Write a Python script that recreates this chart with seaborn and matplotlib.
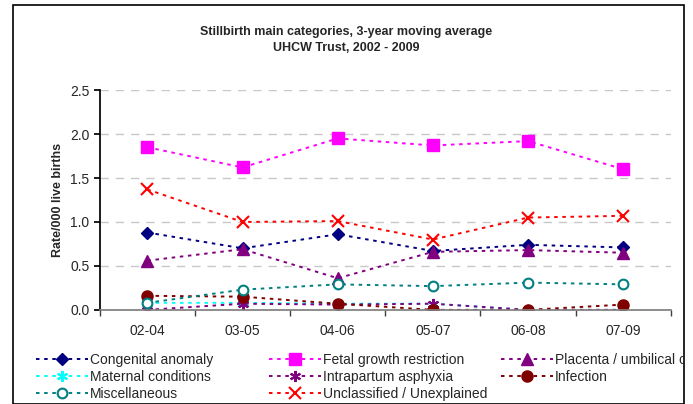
import matplotlib
matplotlib.use("Agg")
import matplotlib.pyplot as plt
import pandas as pd
import seaborn as sns

# periods (3-year moving windows)
periods = ["02-04", "03-05", "04-06", "05-07", "06-08", "07-09"]

# rates per 1000 live births
congenital = [0.88, 0.70, 0.86, 0.67, 0.74, 0.71]
fetal_growth = [1.85, 1.62, 1.95, 1.87, 1.92, 1.60]
placenta = [0.56, 0.69, 0.36, 0.66, 0.68, 0.65]
maternal = [0.08, 0.08, 0.07, 0.07, 0.00, 0.00]
intrapartum = [0.00, 0.07, 0.06, 0.07, 0.00, 0.00]
infection = [0.16, 0.15, 0.07, 0.00, 0.00, 0.06]
misc = [0.08, 0.23, 0.29, 0.27, 0.31, 0.29]
unclassified = [1.37, 1.00, 1.01, 0.80, 1.05, 1.07]

names = ["Congenital anomaly", "Fetal growth restriction", "Placenta / umbilical cord",
         "Maternal conditions", "Intrapartum asphyxia", "Infection",
         "Miscellaneous", "Unclassified / Unexplained"]
series = [congenital, fetal_growth, placenta, maternal, intrapartum, infection, misc, unclassified]
colors = ["#000080", "#ff00ff", "#800080", "#00ffff", "#800080", "#800000", "#008080", "#ff0000"]
markers = ["D", "s", "^", (6, 2, 0), (6, 2, 0), "o", "o", "x"]
msizes = [6, 8, 8, 8, 8, 8, 7, 8]

rows = []
for name, vals in zip(names, series):
    for i, v in enumerate(vals):
        rows.append({"cat": name, "pos": i, "rate": v})
df = pd.DataFrame(rows)

sns.set_theme(style="white")
plt.rcParams['font.family'] = ['Liberation Sans', 'DejaVu Sans']

fig = plt.figure(figsize=(6.93, 4.04), dpi=100)
ax = fig.add_axes([0.144, 0.233, 0.824, 0.544])

handles = []
for name, c, m, ms in zip(names, colors, markers, msizes):
    sub = df[df["cat"] == name]
    face = "white" if name == "Miscellaneous" else c
    thin = m in ("D", "s", "^") or (m == "o" and name == "Infection")
    sns.lineplot(data=sub, x="pos", y="rate", ax=ax, color=c, linewidth=1.4,
                 linestyle=(0, (1.8, 2.4)), marker=m, markersize=ms,
                 markerfacecolor=face, markeredgecolor=c,
                 markeredgewidth=1 if thin else 1.5,
                 label=name, legend=False)
    handles.append(ax.lines[-1])

ax.set_xlim(-0.5, 5.5)
ax.set_ylim(0, 2.5)
ax.set_yticks([0, 0.5, 1.0, 1.5, 2.0, 2.5])
ax.set_yticklabels(["0.0", "0.5", "1.0", "1.5", "2.0", "2.5"], fontsize=10)
ax.set_xticks(range(len(periods)))
ax.set_xticklabels(periods, fontsize=10)
ax.set_xticks([i - 0.5 for i in range(len(periods) + 1)], minor=True)
ax.tick_params(axis="x", which="major", length=0, pad=10)
ax.tick_params(axis="x", which="minor", length=4, color="#404040", direction="out", bottom=True)
ax.tick_params(axis="y", length=4, color="black", direction="out", left=True)
ax.yaxis.grid(True, color="#c8c8c8", linestyle=(0, (6, 5)), linewidth=1)
ax.set_axisbelow(True)
for s in ["top", "right"]:
    ax.spines[s].set_visible(False)
ax.spines["left"].set_color("black")
ax.spines["bottom"].set_color("#808080")
ax.set_xlabel("")
ax.set_ylabel("Rate/000 live births", fontsize=9, fontweight="bold")

fig.text(0.5, 0.902, "Stillbirth main categories, 3-year moving average\nUHCW Trust, 2002 - 2009",
         ha="center", va="center", fontsize=9, fontweight="bold", linespacing=1.45)

# outer frame
frame = plt.Rectangle((0.019, 0.0), 0.968, 0.988, transform=fig.transFigure,
                      fill=False, edgecolor="black", linewidth=1.2)
fig.patches.append(frame)

# legend in three columns, row-major like the original
col_x = [36 / 693, 269 / 693, 501 / 693]
for k in range(3):
    idx = [i for i in range(k, len(names), 3)]
    leg = fig.legend([handles[i] for i in idx], [names[i] for i in idx],
                     loc="upper left", bbox_to_anchor=(col_x[k], 0.126),
                     frameon=False, fontsize=10, handlelength=3.75, handletextpad=0.15,
                     labelspacing=0.2, borderpad=0, borderaxespad=0)
    for t in leg.get_texts():
        t.set_clip_path(frame)

fig.savefig("out.png", dpi=100)
